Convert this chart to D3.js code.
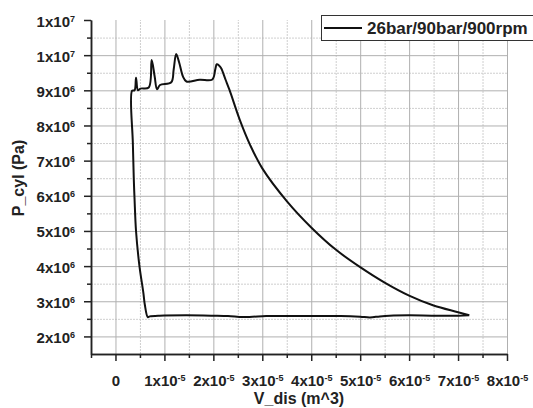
<!DOCTYPE html>
<html>
<head>
<meta charset="utf-8">
<script src="https://cdn.jsdelivr.net/npm/d3@7"></script>
<style>
  body { margin: 0; background: #fff; }
  svg text { font-family: "Liberation Sans", Arial, sans-serif; font-weight: bold; fill: #222; }
</style>
</head>
<body>
<svg id="chart" width="533" height="408"></svg>
<script>
// cycle, going round the loop from the right end
const vdis = [
  7.23e-5, 7.0e-5, 6.5e-5, 6.0e-5, 5.6e-5, 5.4e-5, 5.2e-5, 5.0e-5, 4.6e-5, 4.0e-5,
  3.5e-5, 3.08e-5, 2.8e-5, 2.6e-5, 2.3e-5, 2.0e-5, 1.45e-5, 0.9e-5, 0.7e-5, 0.66e-5,
  0.6e-5, 0.57e-5, 0.49e-5, 0.42e-5, 0.39e-5, 0.375e-5, 0.355e-5, 0.34e-5,
  0.39e-5, 0.42e-5, 0.46e-5, 0.51e-5, 0.68e-5, 0.74e-5, 0.80e-5, 0.85e-5, 0.91e-5,
  1.14e-5, 1.19e-5, 1.24e-5, 1.30e-5, 1.38e-5, 1.45e-5, 1.72e-5, 1.98e-5, 2.04e-5,
  2.07e-5, 2.12e-5, 2.16e-5,
  2.25e-5, 2.33e-5, 2.54e-5, 2.75e-5, 3.0e-5, 3.5e-5, 4.0e-5, 4.5e-5,
  5.0e-5, 5.5e-5, 6.0e-5, 6.5e-5, 7.0e-5, 7.23e-5
];
const pcyl = [
  2.60e6, 2.59e6, 2.59e6, 2.60e6, 2.59e6, 2.57e6, 2.54e6, 2.56e6, 2.58e6, 2.58e6,
  2.58e6, 2.58e6, 2.56e6, 2.55e6, 2.58e6, 2.59e6, 2.60e6, 2.59e6, 2.57e6, 2.55e6,
  2.9e6, 3.24e6, 4.0e6, 5.0e6, 5.9e6, 6.45e6, 7.5e6, 8.99e6,
  9.0e6, 9.36e6, 9.0e6, 9.05e6, 9.08e6, 9.86e6, 9.4e6, 9.03e6, 9.15e6,
  9.23e6, 9.6e6, 1.003e7, 9.8e6, 9.39e6, 9.25e6, 9.3e6, 9.31e6, 9.6e6,
  9.74e6, 9.70e6, 9.63e6,
  9.3e6, 9.01e6, 8.16e6, 7.45e6, 6.78e6, 5.85e6, 5.1e6, 4.47e6,
  3.97e6, 3.53e6, 3.16e6, 2.88e6, 2.69e6, 2.60e6
];

const xTicks = [0, 1e-5, 2e-5, 3e-5, 4e-5, 5e-5, 6e-5, 7e-5, 8e-5];
const xTickLabels = [["0", ""], ["1x10", "-5"], ["2x10", "-5"], ["3x10", "-5"], ["4x10", "-5"],
                     ["5x10", "-5"], ["6x10", "-5"], ["7x10", "-5"], ["8x10", "-5"]];
const xMinor = [-5e-6, 5e-6, 1.5e-5, 2.5e-5, 3.5e-5, 4.5e-5, 5.5e-5, 6.5e-5, 7.5e-5];
const yTicks = [2e6, 3e6, 4e6, 5e6, 6e6, 7e6, 8e6, 9e6, 1e7, 1.1e7];
const yTickLabels = [["2x10", "6"], ["3x10", "6"], ["4x10", "6"], ["5x10", "6"], ["6x10", "6"],
                     ["7x10", "6"], ["8x10", "6"], ["9x10", "6"], ["1x10", "7"], ["1x10", "7"]];
const yMinor = [2.5e6, 3.5e6, 4.5e6, 5.5e6, 6.5e6, 7.5e6, 8.5e6, 9.5e6, 1.05e7];
const seriesName = "26bar/90bar/900rpm";

const svg = d3.select("#chart");
const pLeft = 91, pRight = 507, pTop = 20, pBottom = 354;

const x = d3.scaleLinear().domain([-5e-6, 8e-5]).range([pLeft, pRight]);
const y = d3.scaleLinear().domain([1.5e6, 1.1e7]).range([pBottom, pTop]);

// grid: dotted minor, solid major (built as axes with long ticks)
const gridMinorX = svg.append("g").attr("transform", `translate(0,${pBottom})`)
  .call(d3.axisBottom(x).tickValues(xMinor.slice(1)).tickSize(-(pBottom - pTop)).tickFormat(""));
const gridMinorY = svg.append("g").attr("transform", `translate(${pLeft},0)`)
  .call(d3.axisLeft(y).tickValues(yMinor).tickSize(-(pRight - pLeft)).tickFormat(""));
[gridMinorX, gridMinorY].forEach(g => {
  g.select(".domain").remove();
  g.selectAll("line").attr("stroke", "#cfcfcf").attr("stroke-width", 1).attr("stroke-dasharray", "2,1");
});
const gridMajorX = svg.append("g").attr("transform", `translate(0,${pBottom})`)
  .call(d3.axisBottom(x).tickValues(xTicks).tickSize(-(pBottom - pTop)).tickFormat(""));
const gridMajorY = svg.append("g").attr("transform", `translate(${pLeft},0)`)
  .call(d3.axisLeft(y).tickValues(yTicks.slice(0, -1)).tickSize(-(pRight - pLeft)).tickFormat(""));
[gridMajorX, gridMajorY].forEach(g => {
  g.select(".domain").remove();
  g.selectAll("line").attr("stroke", "#b0b0b0").attr("stroke-width", 1);
});

// axes
function styleAxis(g) {
  g.selectAll("path, line").attr("stroke", "#222").attr("stroke-width", 1.5);
}
svg.append("g").attr("transform", `translate(0,${pBottom})`)
  .call(d3.axisBottom(x).tickValues(xMinor).tickSize(4).tickSizeOuter(0).tickFormat(""))
  .call(styleAxis);
svg.append("g").attr("transform", `translate(${pLeft},0)`)
  .call(d3.axisLeft(y).tickValues(yMinor).tickSize(4).tickSizeOuter(0).tickFormat(""))
  .call(styleAxis);

const xAxis = svg.append("g").attr("transform", `translate(0,${pBottom})`)
  .call(d3.axisBottom(x).tickValues(xTicks).tickSize(7).tickSizeOuter(0).tickPadding(10))
  .call(styleAxis);
const yAxis = svg.append("g").attr("transform", `translate(${pLeft},0)`)
  .call(d3.axisLeft(y).tickValues(yTicks).tickSize(7).tickSizeOuter(0).tickPadding(9))
  .call(styleAxis);

function supLabel(sel, labels, vals) {
  sel.selectAll(".tick text").each(function (d) {
    const lab = labels[vals.indexOf(d)];
    const t = d3.select(this).text(null).style("font-size", "15px").attr("fill", "#222");
    t.append("tspan").text(lab[0]);
    if (lab[1]) t.append("tspan").attr("dy", "-0.55em").style("font-size", "9px").text(lab[1]);
  });
}
supLabel(xAxis, xTickLabels, xTicks);
xAxis.selectAll(".tick text").attr("dy", "1.0em");
supLabel(yAxis, yTickLabels, yTicks);
yAxis.selectAll(".tick text").attr("dy", "0.4em");

// curve
const pts = vdis.map((v, i) => [v, pcyl[i]]);
svg.append("path")
  .datum(pts)
  .attr("fill", "none")
  .attr("stroke", "#111")
  .attr("stroke-width", 2)
  .attr("stroke-linejoin", "round")
  .attr("d", d3.line().x(d => x(d[0])).y(d => y(d[1])).curve(d3.curveCatmullRom.alpha(0.5)));

// axis titles
svg.append("text").attr("x", 299).attr("y", 404).attr("text-anchor", "middle")
  .style("font-size", "16px").text("V_dis (m^3)");
svg.append("text").attr("transform", "translate(24,178) rotate(-90)").attr("text-anchor", "middle")
  .style("font-size", "16px").text("P_cyl (Pa)");

// legend
const lg = svg.append("g");
lg.append("rect").attr("x", 321.5).attr("y", 15.5).attr("width", 220).attr("height", 25)
  .attr("fill", "#fff").attr("stroke", "#333");
lg.append("line").attr("x1", 324).attr("x2", 362).attr("y1", 28).attr("y2", 28)
  .attr("stroke", "#111").attr("stroke-width", 2);
lg.append("text").attr("x", 367).attr("y", 34).style("font-size", "17px").text(seriesName);
</script>
</body>
</html>
